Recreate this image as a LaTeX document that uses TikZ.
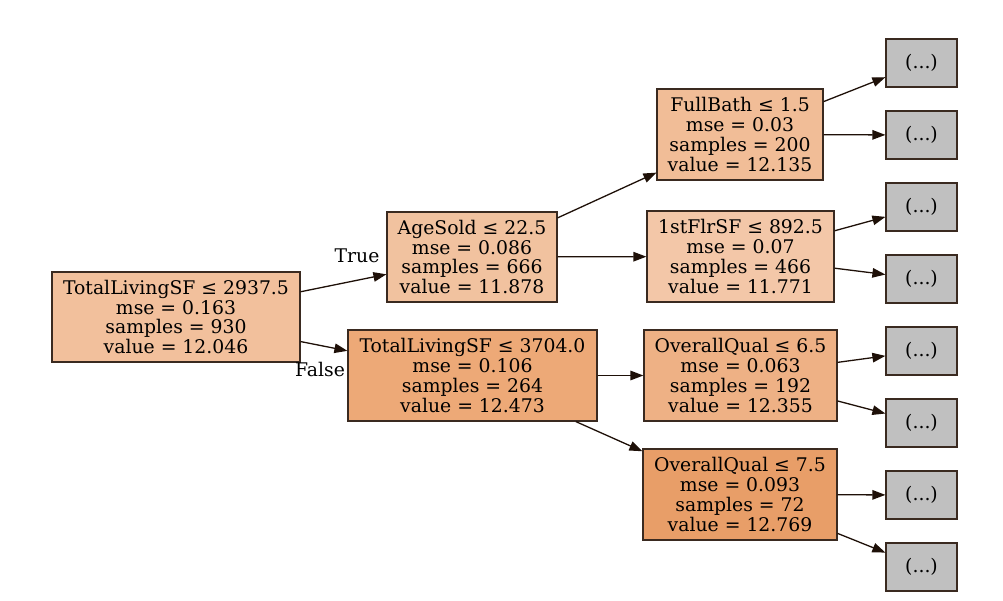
\documentclass[tikz,border=0pt]{standalone}
\usepackage{fontspec}
\setmainfont{DejaVu Serif}
\usetikzlibrary{arrows.meta}
\definecolor{edgec}{HTML}{1E1008}
\definecolor{bordc}{HTML}{3A2A20}
\definecolor{cRoot}{HTML}{F2C09C}
\definecolor{cAge}{HTML}{F1C29F}
\definecolor{cFull}{HTML}{F1BD97}
\definecolor{cFlr}{HTML}{F3C7A8}
\definecolor{cTls}{HTML}{EDA977}
\definecolor{cOqa}{HTML}{EEB185}
\definecolor{cOqb}{HTML}{E89E68}
\definecolor{cLeaf}{HTML}{C0C0C0}
\tikzset{
  tnode/.style={draw=bordc, line width=1.2pt, rectangle, align=center, inner sep=0pt,
    font=\fontsize{18.8}{19.8}\selectfont, text=black},
  leafnode/.style={tnode, fill=cLeaf, minimum width=71pt, minimum height=48pt},
  conn/.style={draw=edgec, line width=1.3pt, -{Triangle[length=13pt,width=9.5pt]}},
  elabel/.style={font=\fontsize{18.8}{19.8}\selectfont, text=black, inner sep=0pt}
}
\begin{document}
\begin{tikzpicture}[x=1pt,y=-1pt]
\useasboundingbox (0,0) rectangle (1003,601);
\node[tnode, fill=cRoot, minimum width=248pt, minimum height=90pt] (root) at (176,317)
  {TotalLivingSF ≤ 2937.5\\mse = 0.163\\samples = 930\\value = 12.046};
\node[tnode, fill=cAge, minimum width=170pt, minimum height=90pt] (age) at (472,257)
  {AgeSold ≤ 22.5\\mse = 0.086\\samples = 666\\value = 11.878};
\node[tnode, fill=cTls, minimum width=249pt, minimum height=91pt] (tls) at (472.5,375.5)
  {TotalLivingSF ≤ 3704.0\\mse = 0.106\\samples = 264\\value = 12.473};
\node[tnode, fill=cFull, minimum width=166pt, minimum height=91pt] (full) at (740,134.5)
  {FullBath ≤ 1.5\\mse = 0.03\\samples = 200\\value = 12.135};
\node[tnode, fill=cFlr, minimum width=187pt, minimum height=91pt] (flr) at (740.5,256.5)
  {1stFlrSF ≤ 892.5\\mse = 0.07\\samples = 466\\value = 11.771};
\node[tnode, fill=cOqa, minimum width=193pt, minimum height=91pt] (oqa) at (740.5,375.5)
  {OverallQual ≤ 6.5\\mse = 0.063\\samples = 192\\value = 12.355};
\node[tnode, fill=cOqb, minimum width=194pt, minimum height=91pt] (oqb) at (740,494.5)
  {OverallQual ≤ 7.5\\mse = 0.093\\samples = 72\\value = 12.769};
\node[leafnode] (l1) at (921.5,63) {(...)};
\node[leafnode] (l2) at (921.5,135) {(...)};
\node[leafnode] (l3) at (921.5,207) {(...)};
\node[leafnode] (l4) at (921.5,279) {(...)};
\node[leafnode] (l5) at (921.5,351) {(...)};
\node[leafnode] (l6) at (921.5,423) {(...)};
\node[leafnode] (l7) at (921.5,495) {(...)};
\node[leafnode] (l8) at (921.5,567) {(...)};
\draw[conn] (root) -- (age);
\draw[conn] (root) -- (tls);
\draw[conn] (age) -- (full);
\draw[conn] (age) -- (flr);
\draw[conn] (tls) -- (oqa);
\draw[conn] (tls) -- (oqb);
\draw[conn] (full) -- (l1);
\draw[conn] (full) -- (l2);
\draw[conn] (flr) -- (l3);
\draw[conn] (flr) -- (l4);
\draw[conn] (oqa) -- (l5);
\draw[conn] (oqa) -- (l6);
\draw[conn] (oqb) -- (l7);
\draw[conn] (oqb) -- (l8);
\node[elabel] (ltrue) at (357,256) {True};
\node[elabel] (lfalse) at (320,369) {False};
\end{tikzpicture}
\end{document}
